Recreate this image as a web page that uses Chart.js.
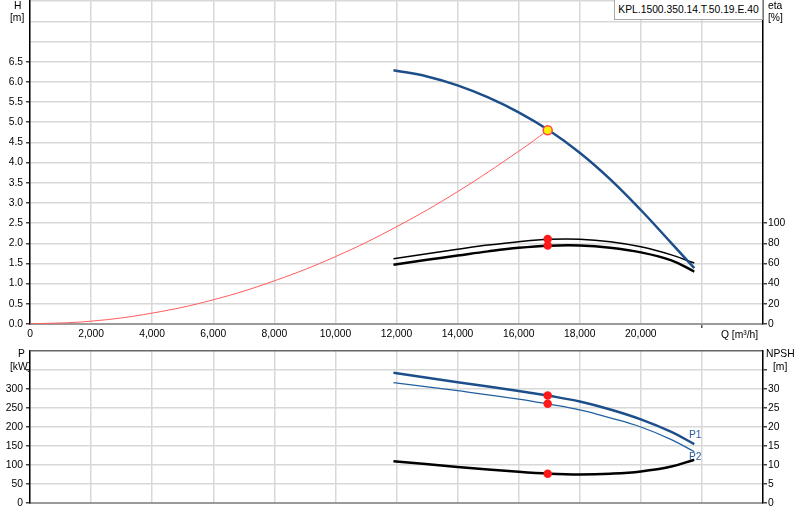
<!DOCTYPE html>
<html>
<head>
<meta charset="utf-8">
<script src="https://cdn.jsdelivr.net/npm/chart.js@4.4.0/dist/chart.umd.min.js"></script>
<style>
  body { margin: 0; background: #fff; font-family: "Liberation Sans", Arial, sans-serif; }
  #wrap { position: relative; width: 800px; height: 520px; overflow: hidden; }
  canvas { position: absolute; left: 0; }
  #topChart { top: -8px; }
  #bottomChart { top: 340px; }
  .lbl { position: absolute; font-size: 10.3px; color: #000; line-height: 11px; white-space: nowrap; }
  .blue { color: #2a5f9e; }
  #model { position: absolute; left: 614px; top: -1px; width: 147px; height: 19px; border: 1px solid #a8a8a8;
           background: #fff; font-size: 10.3px; line-height: 20px; text-align: center; }
</style>
</head>
<body>
<div id="wrap">
  <canvas id="topChart" width="800" height="353"></canvas>
  <canvas id="bottomChart" width="800" height="180"></canvas>
  <div id="model">KPL.1500.350.14.T.50.19.E.40</div>
  <div class="lbl" style="left:14px;top:0px;">H</div>
  <div class="lbl" style="left:10px;top:12px;">[m]</div>
  <div class="lbl" style="left:768px;top:0px;">eta</div>
  <div class="lbl" style="left:768px;top:12px;">[%]</div>
  <div class="lbl" style="left:721px;top:329px;">Q [m³/h]</div>
  <div class="lbl" style="left:18px;top:348px;">P</div>
  <div class="lbl" style="left:10px;top:361px;">[kW]</div>
  <div class="lbl" style="left:766px;top:348px;">NPSH</div>
  <div class="lbl" style="left:773px;top:361px;">[m]</div>
  <div class="lbl blue" style="left:689px;top:429px;">P1</div>
  <div class="lbl blue" style="left:689px;top:451px;">P2</div>
</div>
<script>
// Q-H pumpkurve
const headQ = [11900, 13000, 14000, 15000, 16000, 17000, 18000, 19000, 20000, 21000, 21750];
const headH = [6.29, 6.135, 5.915, 5.615, 5.245, 4.795, 4.245, 3.585, 2.825, 2.005, 1.385];

// anlagenkennlinie (rot)
const systemQ = [0, 2000, 4000, 6000, 8000, 10000, 12000, 14000, 16000, 16950];
const systemH = [0, 0.07, 0.27, 0.60, 1.07, 1.67, 2.41, 3.28, 4.28, 4.80];

// wirkungsgrad (zwei kurven)
const etaQ = [11900, 13000, 14000, 15000, 16000, 17000, 18000, 19000, 20000, 21000, 21750];
const etaUpper = [64.6, 69.6, 74.0, 78.2, 81.6, 83.9, 84.0, 81.5, 76.5, 68.5, 60.4];
const etaLower = [58.7, 63.6, 67.8, 72.0, 75.5, 77.6, 77.8, 75.6, 71.0, 63.0, 52.0];

// leistung P1 / P2 und NPSH
const powerQ = [11900, 14000, 16000, 17000, 18000, 19000, 20000, 21000, 21750];
const powerP1 = [343, 318, 295, 282, 267, 246, 220, 187, 155];
const powerP2 = [317, 295.5, 273.5, 260, 245, 224, 200, 167, 135];
const npshQ = [11900, 14000, 16000, 17000, 18000, 19000, 20000, 21000, 21750];
const npshValues = [11.0, 9.5, 8.2, 7.7, 7.5, 7.7, 8.3, 9.6, 11.4];

// betriebspunkt
const dutyQ = 16950;
const dutyH = 4.80;
const dutyEta = [84.2, 77.7];
const dutyP = [283, 261];
const dutyNpsh = 7.7;

const TICK_FONT = { family: "'Liberation Sans', Arial, sans-serif", size: 10.3 };
const GRID = "#d8d8d8";
const BLUE = "#1c4f8a";

const pts = (xs, ys) => xs.map((x, i) => ({ x: x, y: ys[i] }));

function fixWidth(w) { return (scale) => { scale.width = w; }; }
function fixHeight(h) { return (scale) => { scale.height = h; }; }

function lineSet(data, yAxisID, color, width) {
    return {
        data: data, yAxisID: yAxisID, borderColor: color, borderWidth: width,
        showLine: true, pointRadius: 0, fill: false, tension: 0.4,
    };
}

function dotSet(data, yAxisID, fillColor, borderColor, radius) {
    return {
        data: data, yAxisID: yAxisID, showLine: false, pointRadius: radius,
        pointBackgroundColor: fillColor, pointBorderColor: borderColor, pointBorderWidth: 1.5,
    };
}

function xAxis(showLabels, height) {
    return {
        type: "linear", min: 0, max: 24000,
        afterFit: fixHeight(height),
        border: { color: "#9a9a9a", width: 2 },
        grid: {
            color: GRID, lineWidth: 1.5, tickLength: 4,
            tickColor: (c) => (showLabels && c.tick && c.tick.value === 22000 ? "#555" : "transparent"),
        },
        ticks: {
            display: showLabels, stepSize: 2000, padding: 0, maxRotation: 0, autoSkip: false,
            color: "#000", font: TICK_FONT,
            callback: (v) => (v <= 20000 ? v.toLocaleString("en-US") : ""),
        },
    };
}

// maxLabel: hoechster beschrifteter wert, maxTick: hoechster wert mit tickstrich
function yAxis(pos, max, step, maxLabel, maxTick, width, gridOn, topDark) {
    return {
        type: "linear", position: pos, min: 0, max: max,
        afterFit: fixWidth(width),
        border: { color: "#000", width: 1.5 },
        grid: {
            drawOnChartArea: gridOn, lineWidth: 1.5, tickLength: 4,
            color: (c) => (topDark && c.tick && c.tick.value === max ? "#666" : GRID),
            tickColor: (c) => (c.tick && c.tick.value <= maxTick ? "#444" : "transparent"),
        },
        ticks: {
            stepSize: step, padding: pos === "left" ? 3 : 1, color: "#000", font: TICK_FONT,
            callback: (v) => (v <= maxLabel ? (step < 1 ? v.toFixed(1) : String(v)) : ""),
        },
    };
}

const commonOptions = {
    responsive: false, animation: false, devicePixelRatio: 1,
    plugins: { legend: { display: false }, tooltip: { enabled: false } },
    events: [],
};

// oberes diagramm: H und eta
new Chart(document.getElementById("topChart"), {
    type: "scatter",
    data: {
        datasets: [
            dotSet([{ x: dutyQ, y: dutyH }], "h", "#ffee00", "#ff4a4a", 4.5),
            dotSet(dutyEta.map((e) => ({ x: dutyQ, y: e })), "eta", "#ff1a1a", "#ff1a1a", 3.5),
            lineSet(pts(headQ, headH), "h", BLUE, 2.5),
            lineSet(pts(etaQ, etaUpper), "eta", "#000", 1.5),
            lineSet(pts(etaQ, etaLower), "eta", "#000", 2.5),
            lineSet(pts(systemQ, systemH), "h", "#ff5c5c", 1),
        ],
    },
    options: Object.assign({}, commonOptions, {
        layout: { padding: 0 },
        scales: {
            x: xAxis(true, 21),
            h: yAxis("left", 8, 0.5, 6.5, 6.5, 30, true, false),
            eta: yAxis("right", 320, 20, 100, 100, 37, false, false),
        },
    }),
});

// unteres diagramm: P und NPSH
new Chart(document.getElementById("bottomChart"), {
    type: "scatter",
    data: {
        datasets: [
            dotSet(dutyP.map((p) => ({ x: dutyQ, y: p })), "p", "#ff1a1a", "#ff1a1a", 3.5),
            dotSet([{ x: dutyQ, y: dutyNpsh }], "npsh", "#ff1a1a", "#ff1a1a", 3.5),
            lineSet(pts(powerQ, powerP1), "p", BLUE, 2.5),
            lineSet(pts(powerQ, powerP2), "p", "#2060a0", 1.3),
            lineSet(pts(npshQ, npshValues), "npsh", "#000", 2.5),
        ],
    },
    options: Object.assign({}, commonOptions, {
        layout: { padding: { top: 11 } },
        scales: {
            x: xAxis(false, 17),
            p: yAxis("left", 400, 50, 300, 350, 30, true, true),
            npsh: yAxis("right", 40, 5, 30, 35, 37, false, false),
        },
    }),
});
</script>
</body>
</html>
